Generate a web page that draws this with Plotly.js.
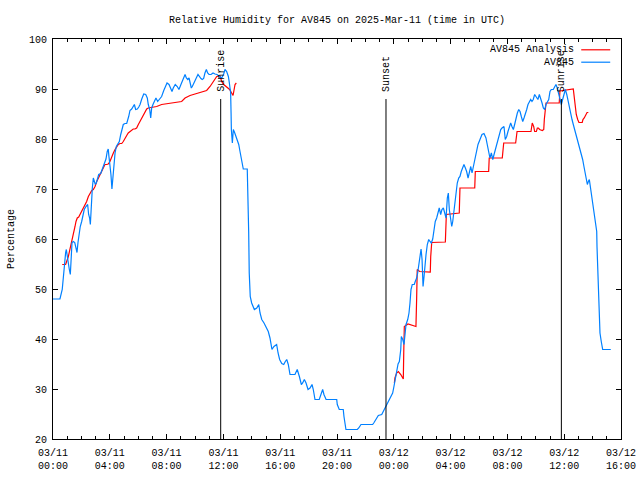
<!DOCTYPE html>
<html><head><meta charset="utf-8">
<script src="https://cdn.plot.ly/plotly-3.0.1.min.js"></script>
<style>html,body{margin:0;padding:0;background:#fff}#chart{width:640px;height:480px}</style>
</head><body><div id="chart"></div>
<script>
const startMs = Date.UTC(2025, 2, 11, 0, 0, 0);

const seriesNames = ['AV845 Analysis', 'AV845'];
const seriesColors = ['#ff0000', '#0080ff'];

// AV845 observations (hours since 03/11 00:00 UTC, %)
const blueHours = [
0.00,0.49,0.65,0.73,0.80,0.89,0.94,1.01,1.08,1.15,
1.22,1.27,1.34,1.43,1.53,1.62,1.69,1.76,1.85,1.92,
2.02,2.11,2.20,2.32,2.44,2.51,2.58,2.63,2.70,2.77,
2.84,2.91,2.98,3.05,3.12,3.22,3.36,3.45,3.54,3.64,
3.73,3.82,3.89,3.94,4.01,4.08,4.15,4.23,4.30,4.37,
4.46,4.58,4.67,4.77,4.86,4.95,5.07,5.19,5.33,5.42,
5.54,5.65,5.73,5.82,5.94,6.04,6.13,6.25,6.39,6.53,
6.64,6.71,6.81,6.88,6.95,7.04,7.13,7.25,7.37,7.51,
7.65,7.80,7.91,8.03,8.17,8.29,8.38,8.47,8.61,8.75,
8.87,9.01,9.15,9.30,9.39,9.49,9.58,9.67,9.74,9.81,
9.91,10.00,10.09,10.21,10.30,10.42,10.51,10.61,10.70,10.80,
10.89,10.99,11.13,11.27,11.41,11.55,11.69,11.88,12.02,12.11,
12.23,12.35,12.42,12.51,12.54,12.56,12.63,12.70,12.80,12.89,
12.98,13.08,13.17,13.26,13.36,13.40,13.68,13.73,13.78,13.82,
13.89,13.99,14.18,14.35,14.49,14.58,14.70,14.86,15.00,15.16,
15.28,15.42,15.56,15.75,15.85,15.96,16.11,16.25,16.36,16.46,
16.57,16.69,17.04,17.20,17.35,17.49,17.58,17.70,17.82,17.96,
18.10,18.24,18.33,18.45,18.75,18.85,18.99,19.08,19.23,19.98,
20.02,20.16,20.44,20.49,20.58,20.63,21.43,21.53,21.69,22.51,
22.61,22.75,22.91,23.15,23.26,23.40,23.54,23.68,23.82,23.92,
24.01,24.11,24.20,24.30,24.39,24.49,24.53,24.63,24.72,24.79,
24.86,24.98,25.07,25.14,25.21,25.30,25.44,25.51,25.61,25.68,
25.75,25.85,25.92,25.99,26.06,26.13,26.20,26.27,26.36,26.46,
26.55,26.64,26.74,26.83,26.92,27.02,27.11,27.20,27.30,27.39,
27.49,27.58,27.68,27.77,27.84,27.91,28.01,28.08,28.15,28.22,
28.29,28.38,28.47,28.57,28.66,28.75,28.85,28.94,29.04,29.13,
29.23,29.32,29.42,29.51,29.60,29.70,29.84,29.93,30.07,30.21,
30.35,30.49,30.58,30.68,30.77,30.87,30.97,31.06,31.15,31.25,
31.34,31.43,31.53,31.62,31.76,31.85,31.95,32.04,32.13,32.23,
32.32,32.42,32.51,32.61,32.70,32.80,32.89,32.98,33.08,33.17,
33.26,33.36,33.45,33.54,33.64,33.73,33.82,33.92,34.01,34.15,
34.25,34.35,34.44,34.53,34.63,34.72,34.81,34.91,35.00,35.09,
35.23,35.33,35.42,35.51,35.61,35.70,35.80,35.89,35.99,36.08,
36.18,36.27,36.36,36.46,36.55,36.64,36.74,36.88,37.02,37.11,
37.21,37.30,37.39,37.46,37.54,37.63,37.70,37.77,37.87,37.96,
38.05,38.15,38.22,38.29,38.31,38.36,38.43,38.47,38.52,38.61,
38.71,39.28];
const blueValues = [
48,48,49.9,51.9,54.5,57.3,57.9,56.5,54.5,53.9,
52.9,55.3,59.3,59.5,59.3,58.2,57.3,59.3,61.3,62.5,
63.5,64.9,65.9,66.5,66.9,64.9,64.2,62.9,67.9,70.2,
72.2,71.5,70.9,71.2,72.2,72.9,73.1,73.9,74.5,75.2,
76,77.5,78,76.5,75.2,72.9,70,72.5,75.2,77.2,
78.5,79.2,79.5,80.9,81.9,82.9,83.1,83.1,84.5,85.7,
86,86.4,86.9,85.9,86,86.4,86.9,88,89,88.9,
88.2,86.9,85.9,84.2,86.2,86.9,87.5,88.2,87.5,87.9,
88.5,89.7,90.5,91.2,90.9,90.2,89.5,90.2,90.9,90.5,
89.9,90.9,91.9,92.9,92.2,91.9,92.2,90.9,90.2,90.5,
91.2,91.9,92.2,92.9,92.5,92.1,91.9,92.1,93.2,93.9,
93.2,92.9,92.9,93.2,93,92.9,92.6,92.2,93,93.9,
93.5,92.5,91.2,89.2,85.2,81.9,79.2,81.9,81.2,80.5,
79.9,78.9,77.5,76.2,74.5,74,74,69.9,61.5,53.2,
48.5,47.2,45.9,46.2,46.9,45.2,43.9,43.2,42.5,41.5,
40.2,37.9,38.5,38.9,37.2,35.9,35.1,34.9,35.5,35.9,
34.9,32.9,32.9,33.9,32.5,30.9,31.2,31.9,31.2,29.9,
30.2,30.9,29.9,27.9,27.9,28.9,29.9,28.9,27.9,27.9,
26.9,25.9,25.9,24.5,22.9,21.9,21.9,22.2,22.9,22.9,
23.3,24,24.7,24.9,25.5,26.5,27.2,27.9,28.5,29.2,
30.5,32.2,33.9,35,35.5,37.9,40.5,39.9,38.9,41.2,
42.9,43.9,45.2,47.2,49.9,50.9,50.9,51.5,52.2,53.2,
54.5,56.9,58,55.9,50.5,52.5,55.2,56.9,58.9,59.9,
59.5,59.2,60,62.2,63.5,64.2,65.2,66.2,64.9,65.9,
66.2,65.2,64.2,68.2,69.2,65.9,63.2,62.5,63.5,65.2,
67.5,69.2,71.2,72.2,72.5,73.5,74.5,74.9,74.2,73.5,
72.2,73.2,74.5,73.2,74.5,75.5,77.9,78.9,79.9,80.9,
81.1,80.2,78.9,77.2,76.2,77.2,75.9,76.9,77.9,78.9,
80.2,80.9,81.9,82.2,82.5,79.9,80.5,81.5,82.5,83.2,
82.5,81.9,82.9,84.2,85.2,85.9,85.5,84.5,83.5,84.2,
84.9,85.9,86.9,87.5,87.9,87.5,87.9,88.9,88.5,87.9,
88.9,88.2,87.2,86.2,85.9,86.9,87.5,87.9,89.5,89.9,
89.9,90.5,90.9,90.2,89,87.9,86.9,87.9,89.2,89.9,
88.9,87.5,86.5,85.2,83.9,82.9,81.9,80.5,79.2,78.2,
76.9,75.9,74.5,73.5,72.5,70.9,71.5,71.9,69.9,67.9,
66.2,64.5,63.2,61.5,58.5,53.9,48.9,43.9,41.2,39.5,
37.9,37.9];

// AV845 Analysis (null = no analysis)
const redHours = [
0.65,0.89,1.08,1.20,1.32,1.39,1.48,1.55,1.62,1.71,
1.81,1.90,2.02,2.13,2.25,2.37,2.49,2.61,2.73,2.84,
2.96,3.08,3.19,3.31,3.43,3.54,3.66,3.78,3.89,4.01,
4.13,4.25,4.37,4.49,4.60,4.72,4.84,4.95,5.07,5.19,
5.30,5.42,5.54,5.65,5.77,5.89,6.01,6.13,6.25,6.36,
6.48,6.60,6.71,6.95,7.30,7.65,8.12,8.59,9.06,9.30,
9.65,10.00,10.35,10.82,11.06,11.22,11.36,11.53,11.76,11.88,
12.02,12.16,12.30,12.44,12.58,12.68,12.73,12.82,12.91,18.00,
24.04,24.08,24.20,24.32,24.49,24.67,24.70,24.74,25.00,25.56,
25.61,25.65,25.82,26.57,26.60,26.67,27.63,27.68,27.70,28.61,
28.66,29.70,29.74,30.68,30.72,31.64,31.69,31.74,32.58,32.63,
32.68,33.66,33.71,33.75,33.85,33.92,34.04,34.11,34.18,34.27,
34.46,34.56,34.60,34.65,34.72,35.65,35.70,36.64,36.69,36.76,
36.85,36.95,37.04,37.27,37.32,37.41,37.51,37.61,37.70];
const redValues = [
54.9,54.9,56.5,57.9,59.2,60.5,61.5,62.5,63.5,64.2,
64.4,64.9,65.5,66.2,66.9,67.5,68.5,69.2,69.7,69.9,
70.5,71.5,72.2,72.9,73.5,74.2,74.9,74.9,75,75.5,
76.5,77.2,77.9,78.5,78.9,79.1,79.1,79.5,80.2,80.7,
81.2,81.5,81.9,82,82,82.2,82.9,83.5,84.2,84.9,
85.5,86,86.2,86.3,86.5,86.9,87.1,87.3,87.5,88.2,
88.7,89,89.3,89.7,90.5,91.2,91.9,92.5,92.6,91.5,
90.9,90.5,90.2,89.9,89.2,88.7,89.5,90.9,91.2,null,
31.2,32.2,33.2,33.5,32.9,32,37.2,42.5,43,42.5,
48.2,53.9,53.5,53.4,56.5,59.3,59.4,62.2,64.9,65.2,
70.2,70.2,73.5,73.5,76.2,76.2,77.9,79.2,79.2,80.2,
81.5,81.5,82.9,83.2,82.5,81.5,81.5,82.2,82.2,81.9,
81.7,81.9,83.9,85.9,87.2,87.2,89.6,90,88.5,86.2,
84.9,83.9,83.3,83.3,83.9,84.2,84.9,85.3,85.3];

const eventHours = [11.81, 23.45, 35.80];
const eventLabels = ['Sunrise', 'Sunset', 'Sunrise'];
const eventTop = 88;

const tickHours = [0, 4, 8, 12, 16, 20, 24, 28, 32, 36, 40];
const tickLabels = ['03/11<br>00:00','03/11<br>04:00','03/11<br>08:00','03/11<br>12:00','03/11<br>16:00','03/11<br>20:00',
                    '03/12<br>00:00','03/12<br>04:00','03/12<br>08:00','03/12<br>12:00','03/12<br>16:00'];

const toMs = h => startMs + h * 3600000;
const FONT = 'Liberation Mono, DejaVu Sans Mono, monospace';

const traces = [
  {x: redHours.map(toMs), y: redValues, type: 'scatter', mode: 'lines', name: seriesNames[0],
   line: {color: seriesColors[0], width: 1.2}, connectgaps: false, hoverinfo: 'skip'},
  {x: blueHours.map(toMs), y: blueValues, type: 'scatter', mode: 'lines', name: seriesNames[1],
   line: {color: seriesColors[1], width: 1.2}, hoverinfo: 'skip'}
];

const shapes = eventHours.map(h => ({type: 'line', xref: 'x', yref: 'y', x0: toMs(h), x1: toMs(h), y0: 20, y1: eventTop,
  line: {color: '#000', width: 1}}));
const annotations = eventHours.map((h, i) => ({x: toMs(h), y: eventTop, xref: 'x', yref: 'y', text: eventLabels[i],
  textangle: -90, showarrow: false, xanchor: 'center', yanchor: 'bottom', yshift: 5, font: {family: FONT, size: 10, color: '#000'}}));

// key (text right-aligned, sample line on the right, like gnuplot)
const keyY = [0.973, 0.942];
seriesNames.forEach((n, i) => {
  annotations.push({xref: 'paper', yref: 'paper', x: 0.92, y: keyY[i], xanchor: 'right', yanchor: 'middle', text: n,
    showarrow: false, font: {family: FONT, size: 10, color: '#000'}});
  shapes.push({type: 'line', xref: 'paper', yref: 'paper', x0: 0.93, x1: 0.981, y0: keyY[i], y1: keyY[i],
    line: {color: seriesColors[i], width: 1.2}});
});

const layout = {
  width: 640, height: 480,
  margin: {l: 53, r: 19, t: 39, b: 41},
  paper_bgcolor: '#fff', plot_bgcolor: '#fff',
  font: {family: FONT, size: 10, color: '#000'},
  showlegend: false,
  title: {text: 'Relative Humidity for AV845 on 2025-Mar-11 (time in UTC)', font: {family: FONT, size: 10, color: '#000'},
    x: 0.5, xref: 'paper', y: 1 - 19/480, yref: 'container', yanchor: 'middle'},
  xaxis: {type: 'date', range: [toMs(0), toMs(40)], tickmode: 'array', tickvals: tickHours.map(toMs), ticktext: tickLabels,
    ticks: 'inside', ticklen: 5, tickcolor: '#000', showline: true, linecolor: '#000', linewidth: 1, mirror: 'ticks',
    showgrid: false, zeroline: false, ticklabelstandoff: 4, tickfont: {family: FONT, size: 10, color: '#000'},
    minor: {dtick: 3600000, tick0: toMs(0), ticks: 'inside', ticklen: 3, tickcolor: '#000', showgrid: false}},
  yaxis: {range: [20, 100], dtick: 10, tick0: 20, ticks: 'inside', ticklen: 5, tickcolor: '#000', showline: true, linecolor: '#000',
    linewidth: 1, mirror: 'ticks', showgrid: false, zeroline: false, ticklabelstandoff: 3, tickfont: {family: FONT, size: 10, color: '#000'},
    title: {text: 'Percentage', font: {family: FONT, size: 10, color: '#000'}, standoff: 12}},
  shapes: shapes,
  annotations: annotations
};

Plotly.newPlot('chart', traces, layout, {staticPlot: true, displayModeBar: false});
</script>
</body></html>
